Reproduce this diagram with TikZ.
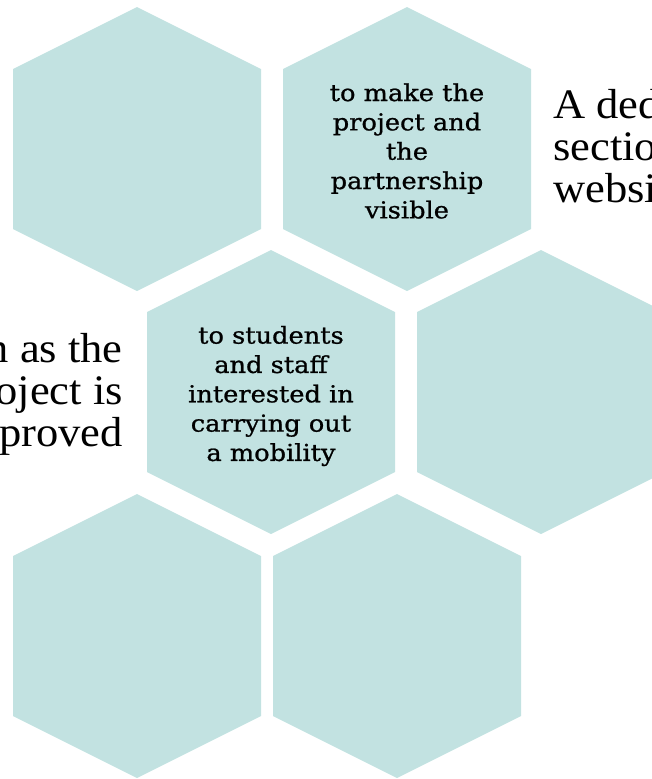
\documentclass[tikz,border=0pt]{standalone}
\usepackage{fontspec}
\setmainfont[FakeStretch=1.06]{Liberation Serif}
\newfontfamily\slabfont[FakeStretch=1.1,FakeBold=0.9]{DejaVu Serif}
\usetikzlibrary{calc}
\definecolor{hexteal}{RGB}{194,226,225}

\begin{document}
\begin{tikzpicture}[x=0.75pt,y=-0.75pt,
	hexcell/.style={fill=hexteal},
	celltext/.style={font=\slabfont\fontsize{17.5}{22}\selectfont,align=center,inner sep=0pt},
	sidetext/.style={font=\fontsize{31.5}{31.5}\selectfont,inner sep=0pt}]
	\useasboundingbox (0,0) rectangle (652,779);
	\clip (0,0) rectangle (652,779);
	\path
	(137,149) coordinate (H1)
	(407,149) coordinate (H2)
	(271,392) coordinate (H3)
	(541,392) coordinate (H4)
	(137,636) coordinate (H5)
	(397,636) coordinate (H6)
	;
	\foreach \h in {H1,H2,H3,H4,H5,H6} \fill[hexcell] (\h) +(0,-142) -- +(124,-80) -- +(124,80) -- +(0,142) -- +(-124,80) -- +(-124,-80) -- cycle;
	\node[celltext] (visible) at ($(H2)+(0,2)$) {to make the\\project and\\the\\partnership\\visible};
	\node[celltext] (mobility) at ($(H3)+(0,4)$) {to students\\and staff\\interested in\\carrying out\\a mobility};
	\node[sidetext,anchor=west,align=left] (website) at (553,146) {A ded\\sectio\\websi};
	\node[sidetext,anchor=east,align=right] (approved) at (123,394) {n as the\\oject is\\proved};
\end{tikzpicture}
\end{document}
